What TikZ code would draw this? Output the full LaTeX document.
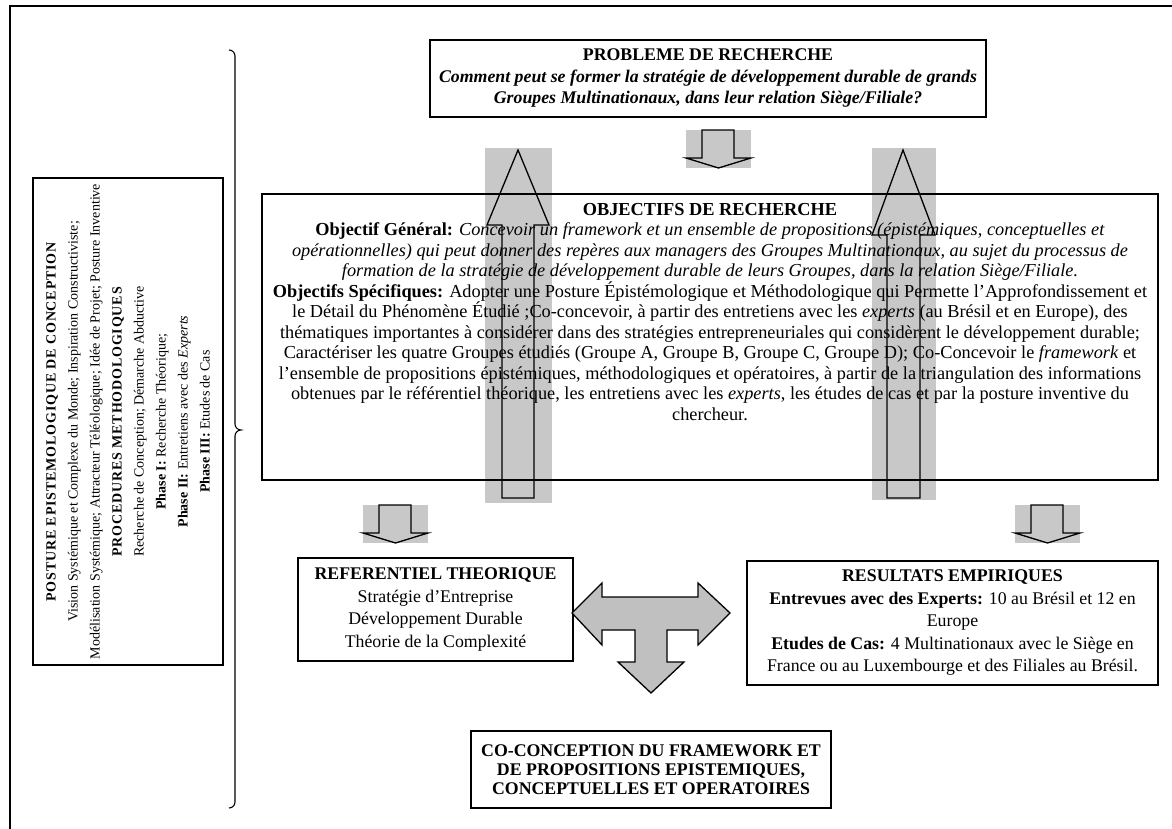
\documentclass[tikz,border=0pt]{standalone}
\usepackage{fontspec}
\setmainfont{Liberation Serif}
\definecolor{bandgray}{RGB}{200,200,200}
\definecolor{arrowgray}{RGB}{192,192,192}

\begin{document}
\begin{tikzpicture}[x=1pt,y=-1pt,
  box/.style={draw=black, line width=1.6pt, inner sep=0pt, align=center},
  outline/.style={draw=black, line width=1.3pt, line join=miter},
  body/.style={font=\fontsize{17.8}{#1}\selectfont},
  downblock/.pic={
    \fill[bandgray] (0,0) rectangle (65,38);
    \draw[outline] (16,0) -- (48,0) -- (48,28) -- (65,28) -- (32.5,38) -- (0,28) -- (16,28) -- cycle;
  }
]
\useasboundingbox (0,0) rectangle (1172,829);
\fill[white] (0,0) rectangle (1172,829);
\clip (0,0) rectangle (1172,829);

% outer frame, open on the right and at the bottom
\draw[line width=1.2pt] (10,840) -- (10,6) -- (1185,6);

% vertical band behind the two long upward arrows
\fill[bandgray] (485,148) rectangle (552,503);
\fill[bandgray] (872,148) rectangle (936,500);

% left column: posture and procedures
\node[box, rotate=90, minimum width=487pt, minimum height=190pt,
      font=\fontsize{14}{22}\selectfont] (posture) at (128,421.5)
  {{\addfontfeature{LetterSpace=6}\textbf{POSTURE EPISTEMOLOGIQUE DE CONCEPTION}}\\
   Vision Systémique et Complexe du Monde; Inspiration Constructiviste;\\
   Modélisation Systémique; Attracteur Téléologique; Idée de Projet; Posture Inventive\\
   {\addfontfeature{LetterSpace=6}\textbf{PROCEDURES METHODOLOGIQUES}}\\
   Recherche de Conception; Démarche Abductive\\
   \textbf{Phase I:} Recherche Théorique;\\
   \textbf{Phase II:} Entretiens avec des \textit{Experts}\\
   \textbf{Phase III:} Etudes de Cas};

% brace gathering the whole research design
\draw[line width=1.1pt] (229,50) to[out=0,in=90] (235,56) -- (235,424)
  to[out=-90,in=180] (241,430) to[out=180,in=90] (235,436) -- (235,802)
  to[out=-90,in=0] (229,808);

% research problem
\node[box, minimum width=556pt, minimum height=77pt,
      body=21.5] (prob) at (708,78.5)
  {\textbf{PROBLEME DE RECHERCHE}\\
   \textbf{\textit{Comment peut se former la stratégie de développement durable de grands}}\\
   \textbf{\textit{Groupes Multinationaux, dans leur relation Siège/Filiale?}}};

% research objectives
\node[box, minimum width=896pt, minimum height=286pt] (obj) at (710,337) {};
\node[align=center, inner sep=0pt, anchor=north, font=\fontsize{18.3}{20.5}\selectfont]
  (objtxt) at (710,203)
  {\textbf{OBJECTIFS DE RECHERCHE}\\
   \textbf{Objectif Général:} \textit{Concevoir un framework et un ensemble de propositions (épistémiques, conceptuelles et}\\
   \textit{opérationnelles) qui peut donner des repères aux managers des Groupes Multinationaux, au sujet du processus de}\\
   \textit{formation de la stratégie de développement durable de leurs Groupes, dans la relation Siège/Filiale.}\\
   \textbf{Objectifs Spécifiques:} Adopter une Posture Épistémologique et Méthodologique qui Permette l'Approfondissement et\\
   le Détail du Phénomène Étudié ;Co-concevoir, à partir des entretiens avec les \textit{experts} (au Brésil et en Europe), des\\
   thématiques importantes à considérer dans des stratégies entrepreneuriales qui considèrent le développement durable;\\
   Caractériser les quatre Groupes étudiés (Groupe A, Groupe B, Groupe C, Groupe D); Co-Concevoir le \textit{framework} et\\
   l'ensemble de propositions épistémiques, méthodologiques et opératoires, à partir de la triangulation des informations\\
   obtenues par le référentiel théorique, les entretiens avec les \textit{experts}, les études de cas et par la posture inventive du\\
   chercheur.};

% theoretical framework
\node[box, minimum width=275pt, minimum height=103pt, body=22.7] (ref) at (435.5,609.5)
  {\textbf{REFERENTIEL THEORIQUE}\\
   Stratégie d'Entreprise\\
   Développement Durable\\
   Théorie de la Complexité};

% empirical results
\node[box, minimum width=411pt, minimum height=124pt, body=22.5] (res) at (952.5,623)
  {\textbf{RESULTATS EMPIRIQUES}\\
   \textbf{Entrevues avec des Experts:} 10 au Brésil et 12 en\\
   Europe\\
   \textbf{Etudes de Cas:} 4 Multinationaux avec le Siège en\\
   France ou au Luxembourge et des Filiales au Brésil.};

% co-design outcome
\node[box, minimum width=360pt, minimum height=77pt, body=19] (cocon) at (651,769.5)
  {\textbf{CO-CONCEPTION DU FRAMEWORK ET}\\
   \textbf{DE PROPOSITIONS EPISTEMIQUES,}\\
   \textbf{CONCEPTUELLES ET OPERATOIRES}};

% long upward arrows (outline only, over the bands)
\draw[outline] (518,150) -- (549,225) -- (534,225) -- (534,498) -- (502,498)
  -- (502,225) -- (487,225) -- cycle;
\draw[outline] (903,150) -- (935,235) -- (920,235) -- (920,498) -- (887,498)
  -- (887,235) -- (872,235) -- cycle;

% short downward block arrows
\pic at (686,130) {downblock};
\pic at (363,505) {downblock};
\pic at (1015,505) {downblock};

% three-way block arrow between the two sources and the outcome
\draw[outline, fill=arrowgray] (572,613) -- (602,583) -- (602,597) -- (698,597)
  -- (698,583) -- (730,613) -- (698,645) -- (698,630) -- (667,630) -- (667,662)
  -- (684,662) -- (651,693) -- (618,662) -- (635,662) -- (635,630) -- (602,630)
  -- (602,645) -- cycle;
\end{tikzpicture}
\end{document}
